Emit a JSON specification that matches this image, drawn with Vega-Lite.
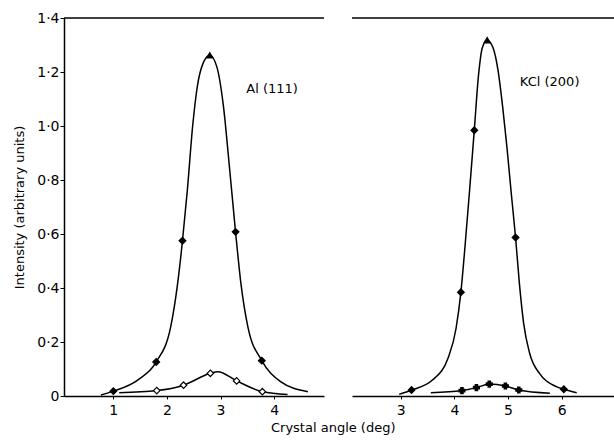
{
  "$schema": "https://vega.github.io/schema/vega-lite/v6.json",
  "padding": {"left": 13, "top": 11, "right": 0, "bottom": 2},
  "spacing": 26,
  "config": {
    "view": {"stroke": null},
    "font": "DejaVu Sans",
    "axis": {"grid": false, "domainColor": "black", "domainWidth": 1.5, "tickColor": "black", "labelColor": "black", "titleColor": "black", "labelFont": "DejaVu Sans", "titleFont": "DejaVu Sans", "labelFontSize": 14, "titleFontSize": 13, "titleFontWeight": "normal"}
  },
  "title": {"text": "Crystal angle (deg)", "orient": "bottom", "anchor": "middle", "fontSize": 13, "fontWeight": "normal", "font": "DejaVu Sans", "color": "black", "offset": 5, "dx": 17},
  "datasets": {
    "curves": [
      {"panel": "Al", "series": "big", "x": 0.77, "y": 0.004},
      {"panel": "Al", "series": "big", "x": 1.0, "y": 0.018},
      {"panel": "Al", "series": "big", "x": 1.455, "y": 0.059},
      {"panel": "Al", "series": "big", "x": 1.8, "y": 0.126},
      {"panel": "Al", "series": "big", "x": 2.07, "y": 0.256},
      {"panel": "Al", "series": "big", "x": 2.2, "y": 0.417},
      {"panel": "Al", "series": "big", "x": 2.29, "y": 0.575},
      {"panel": "Al", "series": "big", "x": 2.38, "y": 0.76},
      {"panel": "Al", "series": "big", "x": 2.48, "y": 1.0},
      {"panel": "Al", "series": "big", "x": 2.57, "y": 1.15},
      {"panel": "Al", "series": "big", "x": 2.67, "y": 1.23},
      {"panel": "Al", "series": "big", "x": 2.8, "y": 1.262},
      {"panel": "Al", "series": "big", "x": 2.93, "y": 1.22},
      {"panel": "Al", "series": "big", "x": 3.05, "y": 1.08},
      {"panel": "Al", "series": "big", "x": 3.17, "y": 0.84},
      {"panel": "Al", "series": "big", "x": 3.28, "y": 0.608},
      {"panel": "Al", "series": "big", "x": 3.38, "y": 0.417},
      {"panel": "Al", "series": "big", "x": 3.51, "y": 0.256},
      {"panel": "Al", "series": "big", "x": 3.77, "y": 0.131},
      {"panel": "Al", "series": "big", "x": 4.12, "y": 0.053},
      {"panel": "Al", "series": "big", "x": 4.63, "y": 0.016},
      {"panel": "Al", "series": "small", "x": 1.11, "y": 0.012},
      {"panel": "Al", "series": "small", "x": 1.81, "y": 0.02},
      {"panel": "Al", "series": "small", "x": 2.31, "y": 0.04},
      {"panel": "Al", "series": "small", "x": 2.81, "y": 0.084},
      {"panel": "Al", "series": "small", "x": 2.95, "y": 0.09},
      {"panel": "Al", "series": "small", "x": 3.3, "y": 0.056},
      {"panel": "Al", "series": "small", "x": 3.78, "y": 0.016},
      {"panel": "Al", "series": "small", "x": 4.25, "y": 0.006},
      {"panel": "KCl", "series": "big", "x": 2.97, "y": 0.006},
      {"panel": "KCl", "series": "big", "x": 3.2, "y": 0.022},
      {"panel": "KCl", "series": "big", "x": 3.59, "y": 0.059},
      {"panel": "KCl", "series": "big", "x": 3.88, "y": 0.14},
      {"panel": "KCl", "series": "big", "x": 4.03, "y": 0.25},
      {"panel": "KCl", "series": "big", "x": 4.12, "y": 0.384},
      {"panel": "KCl", "series": "big", "x": 4.2, "y": 0.56},
      {"panel": "KCl", "series": "big", "x": 4.29, "y": 0.78},
      {"panel": "KCl", "series": "big", "x": 4.37, "y": 0.984},
      {"panel": "KCl", "series": "big", "x": 4.45, "y": 1.19},
      {"panel": "KCl", "series": "big", "x": 4.52, "y": 1.29},
      {"panel": "KCl", "series": "big", "x": 4.61, "y": 1.318},
      {"panel": "KCl", "series": "big", "x": 4.72, "y": 1.29},
      {"panel": "KCl", "series": "big", "x": 4.81, "y": 1.21},
      {"panel": "KCl", "series": "big", "x": 4.9, "y": 1.07},
      {"panel": "KCl", "series": "big", "x": 4.98, "y": 0.92},
      {"panel": "KCl", "series": "big", "x": 5.06, "y": 0.75},
      {"panel": "KCl", "series": "big", "x": 5.14, "y": 0.587},
      {"panel": "KCl", "series": "big", "x": 5.21, "y": 0.42},
      {"panel": "KCl", "series": "big", "x": 5.29, "y": 0.27},
      {"panel": "KCl", "series": "big", "x": 5.4, "y": 0.16},
      {"panel": "KCl", "series": "big", "x": 5.6, "y": 0.08},
      {"panel": "KCl", "series": "big", "x": 5.9, "y": 0.035},
      {"panel": "KCl", "series": "big", "x": 6.04, "y": 0.025},
      {"panel": "KCl", "series": "big", "x": 6.28, "y": 0.012},
      {"panel": "KCl", "series": "small", "x": 3.56, "y": 0.012},
      {"panel": "KCl", "series": "small", "x": 4.14, "y": 0.02},
      {"panel": "KCl", "series": "small", "x": 4.41, "y": 0.031},
      {"panel": "KCl", "series": "small", "x": 4.65, "y": 0.044},
      {"panel": "KCl", "series": "small", "x": 4.95, "y": 0.037},
      {"panel": "KCl", "series": "small", "x": 5.2, "y": 0.022},
      {"panel": "KCl", "series": "small", "x": 5.78, "y": 0.01}
    ],
    "markers": [
      {"panel": "Al", "kind": "filled", "x": 1.0, "y": 0.018},
      {"panel": "Al", "kind": "filled", "x": 1.8, "y": 0.126},
      {"panel": "Al", "kind": "filled", "x": 2.29, "y": 0.575},
      {"panel": "Al", "kind": "filled", "x": 3.28, "y": 0.608},
      {"panel": "Al", "kind": "filled", "x": 3.77, "y": 0.131},
      {"panel": "Al", "kind": "peak", "x": 2.8, "y": 1.262},
      {"panel": "Al", "kind": "open", "x": 1.81, "y": 0.02},
      {"panel": "Al", "kind": "open", "x": 2.31, "y": 0.04},
      {"panel": "Al", "kind": "open", "x": 2.81, "y": 0.084},
      {"panel": "Al", "kind": "open", "x": 3.3, "y": 0.056},
      {"panel": "Al", "kind": "open", "x": 3.78, "y": 0.016},
      {"panel": "KCl", "kind": "filled", "x": 3.2, "y": 0.022},
      {"panel": "KCl", "kind": "filled", "x": 4.12, "y": 0.384},
      {"panel": "KCl", "kind": "filled", "x": 4.37, "y": 0.984},
      {"panel": "KCl", "kind": "filled", "x": 5.14, "y": 0.587},
      {"panel": "KCl", "kind": "filled", "x": 6.04, "y": 0.025},
      {"panel": "KCl", "kind": "peak", "x": 4.61, "y": 1.318},
      {"panel": "KCl", "kind": "plus", "x": 4.14, "y": 0.02},
      {"panel": "KCl", "kind": "plus", "x": 4.41, "y": 0.031},
      {"panel": "KCl", "kind": "plus", "x": 4.65, "y": 0.044},
      {"panel": "KCl", "kind": "plus", "x": 4.95, "y": 0.037},
      {"panel": "KCl", "kind": "plus", "x": 5.2, "y": 0.022}
    ],
    "labels": [
      {"panel": "Al", "x": 3.48, "y": 1.136, "label": "Al (111)"},
      {"panel": "KCl", "x": 5.22, "y": 1.163, "label": "KCl (200)"}
    ]
  },
  "hconcat": [
    {
      "width": 260,
      "height": 378,
      "layer": [
        {
          "data": {"name": "curves"},
          "transform": [{"filter": "datum.panel == 'Al'"}],
          "mark": {"type": "line", "interpolate": "monotone", "color": "black", "strokeWidth": 1.5},
          "encoding": {
            "x": {"field": "x", "type": "quantitative", "scale": {"domain": [0.08, 4.93], "nice": false, "zero": false},
                  "axis": {"values": [1, 2, 3, 4], "format": "d", "title": null, "tickSize": 3, "labelPadding": 4}},
            "y": {"field": "y", "type": "quantitative", "scale": {"domain": [0, 1.4], "nice": false},
                  "axis": {"values": [0, 0.2, 0.4, 0.6, 0.8, 1.0, 1.2, 1.4], "title": "Intensity (arbitrary units)", "tickSize": 4, "labelPadding": 1, "titlePadding": 10,
                           "labelExpr": "datum.value == 0 ? '0' : replace(format(datum.value, '.1f'), '.', '·')"}},
            "detail": {"field": "series"}
          }
        },
        {
          "data": {"name": "markers"},
          "transform": [{"filter": "datum.panel == 'Al'"}],
          "mark": {"type": "point", "stroke": "black", "strokeWidth": 1.2, "opacity": 1},
          "encoding": {
            "x": {"field": "x", "type": "quantitative"},
            "y": {"field": "y", "type": "quantitative"},
            "shape": {"field": "kind", "scale": {"domain": ["filled", "open", "peak", "plus"], "range": ["diamond", "diamond", "triangle-up", "cross"]}, "legend": null},
            "fill": {"field": "kind", "scale": {"domain": ["filled", "open", "peak", "plus"], "range": ["black", "white", "black", "black"]}, "legend": null},
            "size": {"field": "kind", "scale": {"domain": ["filled", "open", "peak", "plus"], "range": [45, 35, 40, 15]}, "legend": null}
          }
        },
        {
          "data": {"values": [{}]},
          "mark": {"type": "rule", "color": "black", "strokeWidth": 1.5},
          "encoding": {"y": {"datum": 1.4}}
        },
        {
          "data": {"name": "labels"},
          "transform": [{"filter": "datum.panel == 'Al'"}],
          "mark": {"type": "text", "align": "left", "baseline": "middle", "fontSize": 13, "font": "DejaVu Sans", "color": "black"},
          "encoding": {
            "x": {"field": "x", "type": "quantitative"},
            "y": {"field": "y", "type": "quantitative"},
            "text": {"field": "label"}
          }
        }
      ]
    },
    {
      "width": 266,
      "height": 378,
      "layer": [
        {
          "data": {"name": "curves"},
          "transform": [{"filter": "datum.panel == 'KCl'"}],
          "mark": {"type": "line", "interpolate": "monotone", "color": "black", "strokeWidth": 1.5},
          "encoding": {
            "x": {"field": "x", "type": "quantitative", "scale": {"domain": [2.09, 7.05], "nice": false, "zero": false},
                  "axis": {"values": [3, 4, 5, 6], "format": "d", "title": null, "tickSize": 3, "labelPadding": 4}},
            "y": {"field": "y", "type": "quantitative", "scale": {"domain": [0, 1.4], "nice": false}, "axis": null},
            "detail": {"field": "series"}
          }
        },
        {
          "data": {"name": "markers"},
          "transform": [{"filter": "datum.panel == 'KCl'"}],
          "mark": {"type": "point", "stroke": "black", "strokeWidth": 1.2, "opacity": 1},
          "encoding": {
            "x": {"field": "x", "type": "quantitative"},
            "y": {"field": "y", "type": "quantitative"},
            "shape": {"field": "kind", "scale": {"domain": ["filled", "open", "peak", "plus"], "range": ["diamond", "diamond", "triangle-up", "cross"]}, "legend": null},
            "fill": {"field": "kind", "scale": {"domain": ["filled", "open", "peak", "plus"], "range": ["black", "white", "black", "black"]}, "legend": null},
            "size": {"field": "kind", "scale": {"domain": ["filled", "open", "peak", "plus"], "range": [45, 35, 40, 15]}, "legend": null}
          }
        },
        {
          "data": {"values": [{}]},
          "mark": {"type": "rule", "color": "black", "strokeWidth": 1.5},
          "encoding": {"y": {"datum": 1.4}}
        },
        {
          "data": {"name": "labels"},
          "transform": [{"filter": "datum.panel == 'KCl'"}],
          "mark": {"type": "text", "align": "left", "baseline": "middle", "fontSize": 13, "font": "DejaVu Sans", "color": "black"},
          "encoding": {
            "x": {"field": "x", "type": "quantitative"},
            "y": {"field": "y", "type": "quantitative"},
            "text": {"field": "label"}
          }
        }
      ]
    }
  ]
}
